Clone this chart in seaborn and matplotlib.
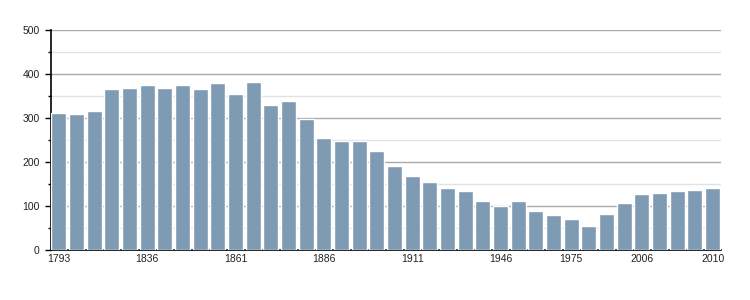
import matplotlib
matplotlib.use("Agg")
import matplotlib.pyplot as plt
import seaborn as sns
import pandas as pd
from matplotlib.ticker import MultipleLocator

years = [1793, 1800, 1806, 1821, 1831, 1836, 1841, 1846, 1851, 1856,
         1861, 1866, 1872, 1876, 1881, 1886, 1891, 1896, 1901, 1906,
         1911, 1921, 1926, 1931, 1936, 1946, 1954, 1962, 1968, 1975,
         1982, 1990, 1999, 2006, 2007, 2008, 2009, 2010]
population = [312, 310, 316, 366, 369, 376, 369, 376, 366, 380,
              355, 382, 330, 339, 297, 255, 248, 248, 225, 191,
              168, 155, 141, 134, 111, 100, 111, 89, 80, 71,
              55, 82, 107, 127, 130, 134, 137, 141]
tick_labels = ["1793", "1836", "1861", "1886", "1911", "1946", "1975", "2006", "2010"]
yticks = [0, 100, 200, 300, 400, 500]

df = pd.DataFrame({"year": [str(y) for y in years], "pop": population})

sns.set_style("white")
plt.rcParams["font.family"] = ["Liberation Sans", "DejaVu Sans"]

fig = plt.figure(figsize=(7.5, 3.0), dpi=100)
ax = fig.add_axes([50.7 / 750, 50 / 300, (720.7 - 50.7) / 750, 220 / 300])

sns.barplot(data=df, x="year", y="pop", order=df["year"], color="#7f9ab3",
            saturation=1, width=0.85, ax=ax, zorder=3)

ax.set_xlim(-0.46, len(years) - 1 + 0.46)
ax.set_ylim(0, 500)
ax.yaxis.set_major_locator(MultipleLocator(100))
ax.yaxis.set_minor_locator(MultipleLocator(50))
ax.set_yticks(yticks)
ax.set_yticklabels([str(v) for v in yticks])
ax.grid(axis="y", which="major", color="#aaaaaa", linewidth=1.0, zorder=0)
ax.grid(axis="y", which="minor", color="#e2e2e2", linewidth=1.0, zorder=0)
ax.grid(axis="x", visible=False)
ax.set_axisbelow(True)

tick_pos = [years.index(int(t)) for t in tick_labels]
ax.set_xticks(tick_pos)
ax.set_xticklabels(tick_labels)

for s in ["top", "right"]:
    ax.spines[s].set_visible(False)
for s in ["left", "bottom"]:
    ax.spines[s].set_visible(True)
    ax.spines[s].set_color("black")
    ax.spines[s].set_linewidth(1.2)

ax.tick_params(axis="y", which="major", left=True, length=4, width=1, color="black",
               labelsize=7.5, pad=4, labelcolor="#222222")
ax.tick_params(axis="y", which="minor", left=True, length=2, width=1, color="black")
ax.tick_params(axis="x", which="major", bottom=False, length=0, labelsize=7.5, pad=3,
               labelcolor="#222222")
ax.set_xlabel("")
ax.set_ylabel("")

fig.savefig("out.png", dpi=100)
